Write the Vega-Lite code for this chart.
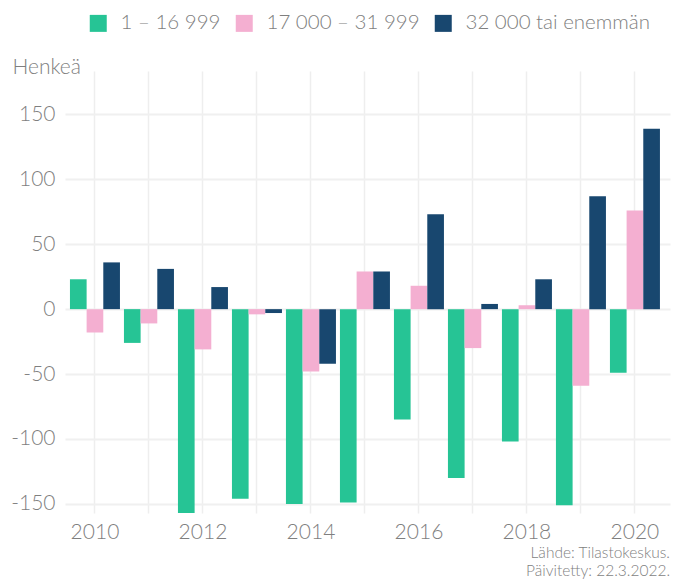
{
  "$schema": "https://vega.github.io/schema/vega-lite/v6.json",
  "width": 605,
  "height": 442,
  "autosize": {"type": "none"},
  "padding": {"left": 65, "top": 71, "right": 10, "bottom": 68},
  "background": "white",
  "config": {"view": {"stroke": null}, "font": "Lato"},
  "title": {
    "text": ["Lähde: Tilastokeskus.", "Päivitetty: 22.3.2022."],
    "orient": "bottom",
    "anchor": "end",
    "fontSize": 15.5,
    "fontWeight": 300,
    "color": "#7f7f7f",
    "lineHeight": 18,
    "offset": 4
  },
  "data": {
    "values": [
      {"year": 2010, "group": "1 – 16 999", "value": 23},
      {"year": 2010, "group": "17 000 – 31 999", "value": -18},
      {"year": 2010, "group": "32 000 tai enemmän", "value": 36},
      {"year": 2011, "group": "1 – 16 999", "value": -26},
      {"year": 2011, "group": "17 000 – 31 999", "value": -11},
      {"year": 2011, "group": "32 000 tai enemmän", "value": 31},
      {"year": 2012, "group": "1 – 16 999", "value": -157},
      {"year": 2012, "group": "17 000 – 31 999", "value": -31},
      {"year": 2012, "group": "32 000 tai enemmän", "value": 17},
      {"year": 2013, "group": "1 – 16 999", "value": -146},
      {"year": 2013, "group": "17 000 – 31 999", "value": -4},
      {"year": 2013, "group": "32 000 tai enemmän", "value": -3},
      {"year": 2014, "group": "1 – 16 999", "value": -150},
      {"year": 2014, "group": "17 000 – 31 999", "value": -48},
      {"year": 2014, "group": "32 000 tai enemmän", "value": -42},
      {"year": 2015, "group": "1 – 16 999", "value": -149},
      {"year": 2015, "group": "17 000 – 31 999", "value": 29},
      {"year": 2015, "group": "32 000 tai enemmän", "value": 29},
      {"year": 2016, "group": "1 – 16 999", "value": -85},
      {"year": 2016, "group": "17 000 – 31 999", "value": 18},
      {"year": 2016, "group": "32 000 tai enemmän", "value": 73},
      {"year": 2017, "group": "1 – 16 999", "value": -130},
      {"year": 2017, "group": "17 000 – 31 999", "value": -30},
      {"year": 2017, "group": "32 000 tai enemmän", "value": 4},
      {"year": 2018, "group": "1 – 16 999", "value": -102},
      {"year": 2018, "group": "17 000 – 31 999", "value": 3},
      {"year": 2018, "group": "32 000 tai enemmän", "value": 23},
      {"year": 2019, "group": "1 – 16 999", "value": -151},
      {"year": 2019, "group": "17 000 – 31 999", "value": -59},
      {"year": 2019, "group": "32 000 tai enemmän", "value": 87},
      {"year": 2020, "group": "1 – 16 999", "value": -49},
      {"year": 2020, "group": "17 000 – 31 999", "value": 76},
      {"year": 2020, "group": "32 000 tai enemmän", "value": 139}
    ]
  },
  "encoding": {
    "x": {
      "field": "year",
      "type": "ordinal",
      "scale": {"paddingInner": 0.074, "paddingOuter": 0.139, "align": 0.33},
      "axis": {
        "title": null,
        "labelAngle": 0,
        "labelExpr": "datum.value % 2 == 0 ? datum.label : ''",
        "labelFontSize": 21,
        "labelFontWeight": 300,
        "labelColor": "#7f7f7f",
        "labelPadding": 8,
        "ticks": false,
        "domain": false,
        "grid": true,
        "gridColor": "#eeeeee",
        "gridWidth": 1.5,
        "bandPosition": 0.5
      }
    }
  },
  "layer": [
    {
      "mark": {"type": "bar"},
      "encoding": {
        "xOffset": {
          "field": "group",
          "type": "nominal",
          "sort": ["1 – 16 999", "17 000 – 31 999", "32 000 tai enemmän"],
          "scale": {"paddingInner": 0, "paddingOuter": 0}
        },
        "y": {
          "field": "value",
          "type": "quantitative",
          "scale": {"domain": [-157, 183.4], "nice": false, "zero": false},
          "axis": {
            "values": [-150, -100, -50, 0, 50, 100, 150],
            "labelExpr": "datum.value < 0 ? '-' + abs(datum.value) : '' + datum.value",
            "title": "Henkeä",
            "titleAngle": 0,
            "titleAlign": "left",
            "titleBaseline": "alphabetic",
            "titleX": -53,
            "titleY": 2,
            "titleFontSize": 21,
            "titleFontWeight": 300,
            "titleColor": "#7f7f7f",
            "labelFontSize": 21,
            "labelFontWeight": 300,
            "labelColor": "#7f7f7f",
            "labelPadding": 10,
            "ticks": false,
            "domain": false,
            "gridColor": "#f0f0f0",
            "gridWidth": 2
          }
        },
        "color": {
          "field": "group",
          "type": "nominal",
          "sort": ["1 – 16 999", "17 000 – 31 999", "32 000 tai enemmän"],
          "scale": {
            "domain": ["1 – 16 999", "17 000 – 31 999", "32 000 tai enemmän"],
            "range": ["#26c495", "#f4afd1", "#18476f"]
          },
          "legend": {
            "orient": "none",
            "legendX": 23,
            "legendY": -58,
            "direction": "horizontal",
            "title": null,
            "symbolType": "square",
            "symbolSize": 289,
            "symbolStrokeWidth": 0,
            "labelFontSize": 20.5,
            "labelFontWeight": 300,
            "labelColor": "#7f7f7f",
            "labelLimit": 0,
            "labelOffset": 12,
            "columnPadding": 13,
            "padding": 0
          }
        }
      }
    },
    {
      "mark": {"type": "rule", "color": "#000000", "strokeWidth": 1.5},
      "encoding": {"y": {"datum": 0, "type": "quantitative"}}
    }
  ]
}
